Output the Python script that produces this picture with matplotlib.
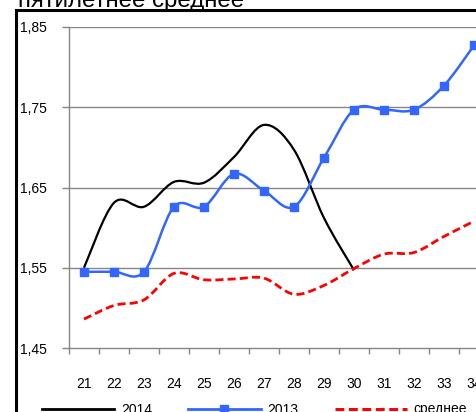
import numpy as np
import matplotlib.pyplot as plt
from matplotlib.path import Path
from matplotlib.patches import PathPatch, Rectangle
from matplotlib.lines import Line2D

plt.rcParams['font.family'] = ['Liberation Sans', 'DejaVu Sans']

# %% data
weeks = list(range(21, 35))
weeks2014 = list(range(21, 31))
y2014 = [1.550, 1.631, 1.626, 1.657, 1.656, 1.688, 1.728, 1.697, 1.612, 1.547]
y2013 = [1.545, 1.545, 1.545, 1.626, 1.626, 1.667, 1.646, 1.626, 1.687,
         1.747, 1.747, 1.747, 1.777, 1.827]
avg5 = [1.486, 1.503, 1.510, 1.543, 1.535, 1.536, 1.537, 1.517, 1.528,
        1.549, 1.567, 1.569, 1.589, 1.608]
yticks = [1.45, 1.55, 1.65, 1.75, 1.85]
names = ['2014', '2013', 'среднее']
title = 'пятилетнее среднее'

BLUE = '#3366ff'
RED = '#ff0000'
GRID = '#868686'


def smooth_path(x, y):
    # excel-like smoothed line: bezier segments through the data points
    pts = np.column_stack([x, y]).astype(float)
    n = len(pts)
    verts = [pts[0]]
    codes = [Path.MOVETO]
    for i in range(n - 1):
        p0 = pts[max(i - 1, 0)]
        p1, p2 = pts[i], pts[i + 1]
        p3 = pts[min(i + 2, n - 1)]
        verts += [p1 + (p2 - p0) / 6, p2 - (p3 - p1) / 6, p2]
        codes += [Path.CURVE4] * 3
    return Path(verts, codes)


# %% figure
W, H = 476, 412
fig = plt.figure(figsize=(W / 100, H / 100), dpi=100)
ax = fig.add_axes([69 / W, 64 / H, 450 / W, 321 / H])

ax.set_xlim(20.5, 35.5)
ax.set_ylim(1.45, 1.85)

for yv in yticks[1:]:
    ax.axhline(yv, color=GRID, lw=1, zorder=1)

ax.add_patch(PathPatch(smooth_path(weeks2014, y2014), fill=False,
                       edgecolor='black', lw=1.6, zorder=3))
ax.add_patch(PathPatch(smooth_path(weeks, y2013), fill=False,
                       edgecolor=BLUE, lw=1.8, zorder=4))
ax.plot(weeks, y2013, 's', color=BLUE, ms=5.8, zorder=5, clip_on=False)
ax.add_patch(PathPatch(smooth_path(weeks, avg5), fill=False,
                       edgecolor=RED, lw=2, ls=(0, (2.9, 1.5)),
                       capstyle='butt', zorder=6))

ax.set_yticks(yticks)
ax.set_yticklabels([f'{v:.2f}'.replace('.', ',') for v in yticks])
ax.tick_params(axis='y', length=5, width=1, color=GRID, pad=11,
               labelsize=10)
ax.set_xticks(np.arange(20.5, 36, 1))
ax.set_xticklabels([])
ax.set_xticks(weeks, minor=True)
ax.set_xticklabels([str(w) for w in weeks], minor=True)
ax.tick_params(axis='x', which='major', length=4, width=1, color=GRID)
ax.tick_params(axis='x', which='minor', length=0, pad=21, labelsize=10)

for s in ['top', 'right']:
    ax.spines[s].set_visible(False)
for s in ['left', 'bottom']:
    ax.spines[s].set_color(GRID)
    ax.spines[s].set_linewidth(1)

# outer frame of the chart (cut by the picture border)
fig.add_artist(Rectangle((16 / W, -0.2), 2, 1 - 10 / H + 0.2,
                         transform=fig.transFigure, fill=False,
                         edgecolor='black', lw=2.2))

fig.text(18 / W, 1 - 7 / H, title, fontsize=17.3, va='baseline')

handles = [Line2D([], [], color='black', lw=2),
           Line2D([], [], color=BLUE, lw=2, marker='s', ms=6),
           Line2D([], [], color=RED, lw=2.2, ls=(0, (2.9, 1.5)))]
fig.legend(handles, names, loc='center left', ncol=3,
           bbox_to_anchor=(42 / W, 2.5 / H), frameon=False, fontsize=10,
           handlelength=5.2, handletextpad=0.5, columnspacing=2.6,
           borderpad=0, borderaxespad=0)

fig.savefig('out.png', dpi=100)
